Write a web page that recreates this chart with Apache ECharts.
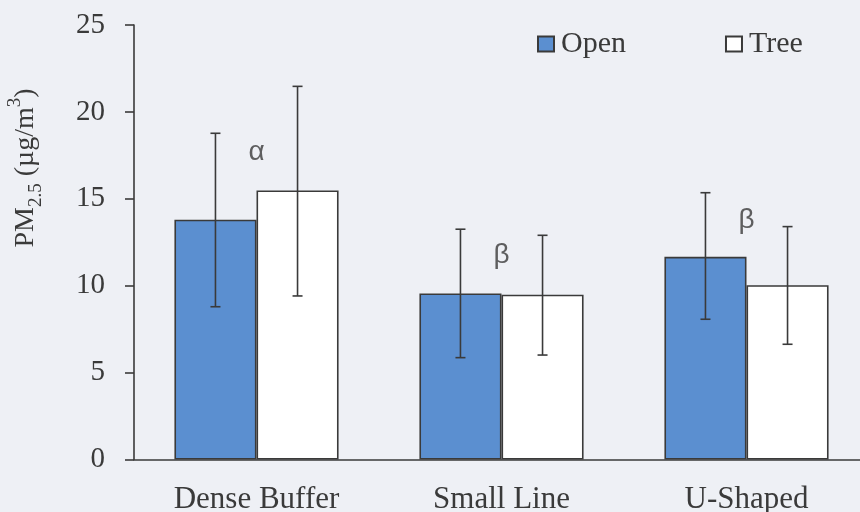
<!DOCTYPE html>
<html>
<head>
<meta charset="utf-8">
<script src="https://cdn.jsdelivr.net/npm/echarts@6/dist/echarts.min.js"></script>
<style>
  html, body { margin: 0; padding: 0; background: #eef0f5; }
  #chart { width: 860px; height: 512px; }
</style>
</head>
<body>
<div id="chart"></div>
<script>
// Layouts and PM2.5 means with error-bar extents (µg/m³)
var categories = ['Dense Buffer', 'Small Line', 'U-Shaped'];
var openMean = [13.8, 9.55, 11.66];
var treeMean = [15.48, 9.48, 10.03];
var openLow = [8.79, 5.86, 8.07];
var openHigh = [18.77, 13.25, 15.35];
var treeLow = [9.41, 6.01, 6.63];
var treeHigh = [21.47, 12.9, 13.4];
// Significance-group letters per layout
var groupLetters = ['α', 'β', 'β'];
var letterY = [17.69, 11.77, 13.78];
var yTicks = [0, 5, 10, 15, 20, 25];

var serif = '"Liberation Serif", "Times New Roman", serif';
var ink = '#3a3a3a';
var CAT_GAP = 0.33;

function errorData(lo, hi) {
  return lo.map(function (v, i) { return [i, v, hi[i]]; });
}

function errorRenderer(side) {
  return function (params, api) {
    var cat = api.value(0);
    var top = api.coord([cat, api.value(2)]);
    var bot = api.coord([cat, api.value(1)]);
    var band = api.size([1, 0])[0];
    var x = top[0] + side * band * (1 - CAT_GAP) / 4;
    var cap = 5;
    var st = { stroke: ink, lineWidth: 1.6 };
    return {
      type: 'group',
      children: [
        { type: 'line', shape: { x1: x, y1: top[1], x2: x, y2: bot[1] }, style: st },
        { type: 'line', shape: { x1: x - cap, y1: top[1], x2: x + cap, y2: top[1] }, style: st },
        { type: 'line', shape: { x1: x - cap, y1: bot[1], x2: x + cap, y2: bot[1] }, style: st }
      ]
    };
  };
}

var chart = echarts.init(document.getElementById('chart'));
chart.setOption({
  backgroundColor: '#eef0f5',
  animation: false,
  grid: {
    left: 134, top: 25, width: 735, height: 434.5,
    containLabel: false, outerBoundsMode: 'none'
  },
  legend: {
    data: ['Open', 'Tree'],
    left: 537,
    top: 29,
    padding: 0,
    icon: 'rect',
    itemWidth: 16,
    itemHeight: 15,
    itemGap: 99,
    textStyle: { fontFamily: serif, fontSize: 30, color: ink, padding: [0, 0, 0, 2] }
  },
  xAxis: {
    type: 'category',
    data: categories,
    axisLine: { show: true, lineStyle: { color: ink, width: 1.6 } },
    axisTick: { show: false },
    axisLabel: { fontFamily: serif, fontSize: 31, color: ink, margin: 25 }
  },
  yAxis: {
    type: 'value',
    min: 0,
    max: 25,
    interval: 5,
    axisLine: { show: true, lineStyle: { color: ink, width: 1.6 } },
    axisTick: { show: true, length: 9, lineStyle: { color: ink, width: 1.6 } },
    splitLine: { show: false },
    axisLabel: {
      fontFamily: serif, fontSize: 29, color: ink, margin: 29,
      formatter: function (v) { return yTicks.indexOf(v) >= 0 ? String(v) : ''; }
    }
  },
  graphic: [{
    type: 'text',
    x: 26,
    y: 168,
    rotation: Math.PI / 2,
    style: {
      text: '{a|PM}{b|2.5}{a| (µg/m}{c|3}{a|)}',
      fill: ink,
      align: 'center',
      verticalAlign: 'middle',
      rich: {
        a: { fontFamily: serif, fontSize: 28, lineHeight: 40, fill: ink },
        b: { fontFamily: serif, fontSize: 19, lineHeight: 18, verticalAlign: 'bottom', fill: ink },
        c: { fontFamily: serif, fontSize: 19, lineHeight: 14, verticalAlign: 'top', fill: ink }
      }
    }
  }],
  series: [
    {
      name: 'Open',
      type: 'bar',
      data: openMean,
      barGap: '0%',
      barCategoryGap: '33%',
      itemStyle: { color: '#5b8fd0', borderColor: ink, borderWidth: 1.6 }
    },
    {
      name: 'Tree',
      type: 'bar',
      data: treeMean,
      barGap: '0%',
      barCategoryGap: '33%',
      itemStyle: { color: '#ffffff', borderColor: ink, borderWidth: 1.6 }
    },
    {
      name: 'Open error',
      type: 'custom',
      renderItem: errorRenderer(-1),
      data: errorData(openLow, openHigh),
      encode: { x: 0, y: [1, 2] },
      z: 5
    },
    {
      name: 'Tree error',
      type: 'custom',
      renderItem: errorRenderer(1),
      data: errorData(treeLow, treeHigh),
      encode: { x: 0, y: [1, 2] },
      z: 5
    },
    {
      name: 'Groups',
      type: 'scatter',
      symbolSize: 0,
      data: groupLetters.map(function (t, i) { return [i, letterY[i], t]; }),
      label: {
        show: true,
        position: 'inside',
        formatter: function (p) { return p.value[2]; },
        fontFamily: '"Liberation Sans", "DejaVu Sans", sans-serif',
        fontSize: 28,
        color: ink
      },
      z: 6
    }
  ]
});
</script>
</body>
</html>
